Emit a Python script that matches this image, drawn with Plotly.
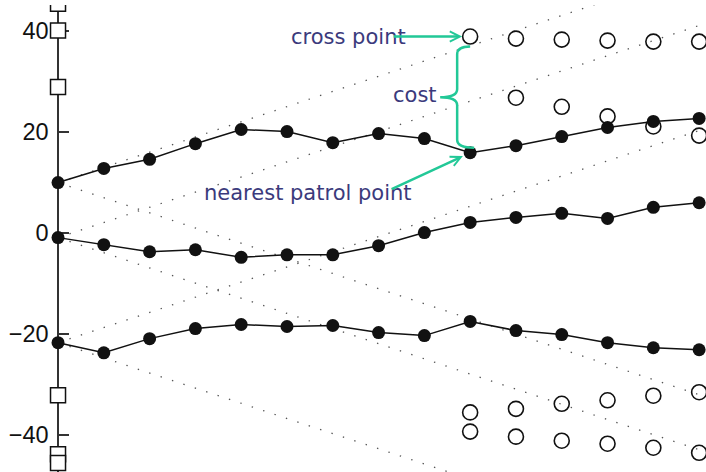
import plotly.graph_objects as go

# patrol tracks (index along x, position along y)
steps = list(range(15))
track_upper = [9.9, 12.7, 14.5, 17.6, 20.4, 20.0, 17.8, 19.6, 18.6, 15.8, 17.2, 19.0, 20.8, 22.0, 22.6]
track_middle = [-1.0, -2.4, -3.8, -3.4, -4.9, -4.4, -4.4, -2.6, 0.0, 2.0, 3.0, 3.8, 2.8, 5.0, 5.9]
track_lower = [-21.8, -23.8, -21.0, -19.0, -18.2, -18.6, -18.4, -19.8, -20.4, -17.6, -19.4, -20.2, -21.8, -22.8, -23.2]

# cross points (open circles)
cross_steps = [9, 10, 11, 12, 13, 14]
cross_top = [38.8, 38.4, 38.2, 38.0, 37.8, 37.8]
cross_second_steps = [10, 11, 12, 13, 14]
cross_second = [26.7, 24.9, 23.0, 21.0, 19.2]
cross_low_a = [-35.6, -34.9, -33.9, -33.2, -32.3, -31.6]
cross_low_b = [-39.4, -40.4, -41.2, -41.8, -42.6, -43.6]

# markers on the axis
axis_marks = [45.3, 40.0, 28.8, -32.2, -43.9, -45.6]

# reach envelopes: start value at step 0, value at step 14
env_start = [9.9, 9.9, -1.0, -1.0, -21.8, -21.8]
env_end = [52.0, -32.1, 41.0, -43.0, 20.2, -63.8]

y_ticks = [-40, -20, 0, 20, 40]

X_RANGE = [-1.267, 14.15]
Y_RANGE = [-47.4, 45.05]
W, H = 706, 472
TOP = 5

INK = "#111111"
GREEN = "#22c897"
LABEL = "#3b3a7c"

fig = go.Figure()

# dotted envelopes
for a, b in zip(env_start, env_end):
    fig.add_trace(go.Scatter(
        x=[0, 14], y=[a, b], mode="lines",
        line=dict(color="#555555", width=1.3, dash="1.4px,10.6px"),
        hoverinfo="skip"))

# tracks
for ys in (track_upper, track_middle, track_lower):
    fig.add_trace(go.Scatter(
        x=steps, y=ys, mode="lines+markers",
        line=dict(color=INK, width=1.5),
        marker=dict(size=13, color=INK)))

# cross points
open_circle = dict(symbol="circle-open", size=15, color=INK, line=dict(width=1.6, color=INK))
for xs, ys in ((cross_steps, cross_top), (cross_second_steps, cross_second),
               (cross_steps, cross_low_a), (cross_steps, cross_low_b)):
    fig.add_trace(go.Scatter(x=xs, y=ys, mode="markers", marker=open_circle))

# squares on the axis
fig.add_trace(go.Scatter(
    x=[0] * len(axis_marks), y=axis_marks, mode="markers",
    marker=dict(symbol="square", size=15, color="white",
                line=dict(width=1.5, color=INK))))

# annotation geometry around the highlighted step
k = 9
cross_y = cross_top[0]
patrol_y = track_upper[k]
ppu = (H - TOP) / (Y_RANGE[1] - Y_RANGE[0])      # pixels per y unit
top = cross_y - 10 / ppu
bot = patrol_y + 5 / ppu
mid = (top + bot) / 2
c = 8 / ppu
brace = (f"M 0,{top} Q -13,{top} -13,{top - c} "
         f"L -13,{mid + c} Q -13,{mid} -30,{mid} "
         f"Q -13,{mid} -13,{mid - c} "
         f"L -13,{bot + c} Q -13,{bot} 4,{bot}")
fig.add_shape(type="path", path=brace, xref="x", yref="y",
              xsizemode="pixel", xanchor=k,
              line=dict(color=GREEN, width=2.5))

text_font = dict(family="DejaVu Sans", size=21, color=LABEL)
fig.add_annotation(x=k, y=cross_y, xshift=-62, text="cross point",
                   showarrow=False, xanchor="right", font=text_font)
fig.add_annotation(x=k, y=mid, xshift=-31, yshift=2, text="cost",
                   showarrow=False, xanchor="right", font=text_font)
fig.add_annotation(x=k, y=patrol_y, xshift=-56, yshift=-40, text="nearest patrol point",
                   showarrow=False, xanchor="right", font=text_font)

fig.add_annotation(x=k, y=cross_y, text="", showarrow=True, ax=-78, ay=0,
                   arrowhead=5, arrowsize=0.8, arrowwidth=2.5, arrowcolor=GREEN,
                   standoff=8)
fig.add_annotation(x=k, y=patrol_y, text="", showarrow=True, ax=-80, ay=37,
                   arrowhead=5, arrowsize=0.8, arrowwidth=2.5, arrowcolor=GREEN,
                   standoff=8)

fig.update_layout(
    width=W, height=H, margin=dict(l=0, r=0, t=TOP, b=0),
    paper_bgcolor="white", plot_bgcolor="white", showlegend=False,
    xaxis=dict(range=X_RANGE, visible=False, showgrid=False, zeroline=False),
    yaxis=dict(range=Y_RANGE, anchor="free",
               position=(0 - X_RANGE[0]) / (X_RANGE[1] - X_RANGE[0]),
               showgrid=False, zeroline=False, showline=True, layer="below traces",
               linecolor="#333333", linewidth=1.5,
               ticks="inside", ticklen=10, tickwidth=1.5, tickcolor="#333333",
               tickvals=y_ticks, ticklabelstandoff=4,
               tickfont=dict(family="Liberation Sans", size=23.5, color=INK)),
)

fig.write_html("out.html")
